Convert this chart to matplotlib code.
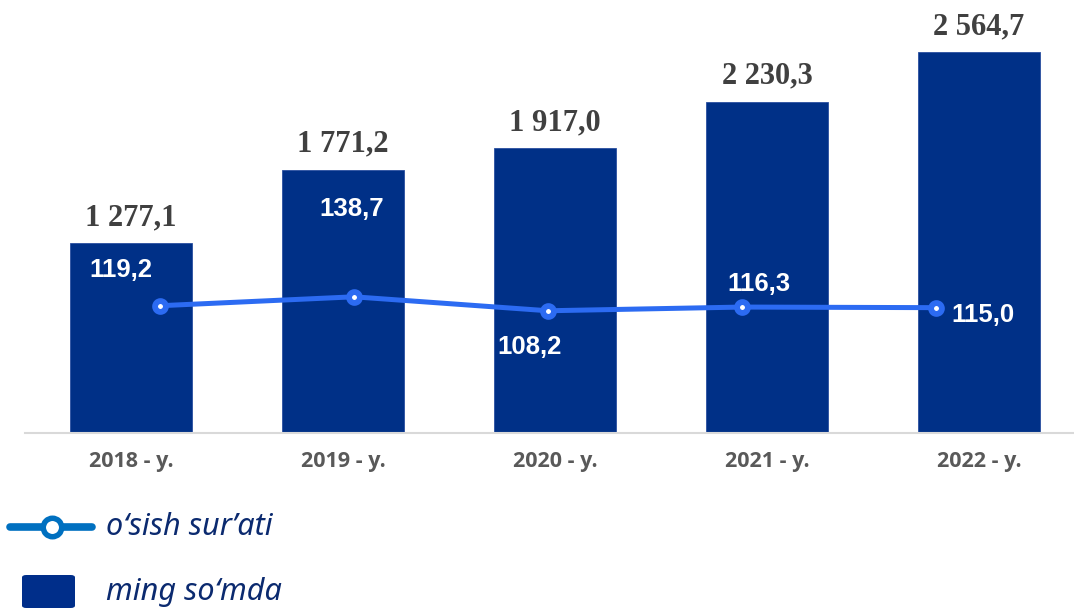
import matplotlib
matplotlib.use('Agg')
import matplotlib.pyplot as plt
from matplotlib.lines import Line2D
from matplotlib.patches import FancyBboxPatch

# ============================================================================
# DONNÉES
# ============================================================================
years = ['2018 - y.', '2019 - y.', '2020 - y.', '2021 - y.', '2022 - y.']
amounts = [1277.1, 1771.2, 1917.0, 2230.3, 2564.7]      # ming so'mda
growth = [119.2, 138.7, 108.2, 116.3, 115.0]            # o'sish sur'ati
amount_labels = ['1 277,1', '1 771,2', '1 917,0', '2 230,3', '2 564,7']
growth_labels = ['119,2', '138,7', '108,2', '116,3', '115,0']

# position of the growth labels relative to their points (points)
growth_offsets = [(-28, 20.5), (-1.5, 58.5), (-13, -31.3), (12.2, 11.9), (33.8, -10.4)]

bar_color = '#003087'
line_color = '#2C6BF2'
legend_line_color = '#0070C0'
text_navy = '#0B2A6F'

W, H = 1074, 610
fig = plt.figure(figsize=(W / 100, H / 100), dpi=100)

ax = fig.add_axes([25 / W, (H - 433) / H, (W - 25) / W, 433 / H])
x = list(range(len(years)))
ax.bar(x, amounts, width=0.572, color=bar_color, edgecolor='#2A4FA0', linewidth=0.6, zorder=2)
ax.set_xlim(-0.5, 4.448)
ax.set_ylim(0, 2914.7)

for xi, v, lab in zip(x, amounts, amount_labels):
    ax.annotate(lab, (xi, v), xytext=(0, 13), textcoords='offset points',
                ha='center', va='baseline', fontsize=22, fontweight='bold',
                family=['Liberation Serif', 'DejaVu Serif'], color='#404040')

ax.set_xticks(x)
ax.set_xticklabels(years, family=['Open Sans', 'DejaVu Sans'], fontweight='bold',
                   fontsize=15.5, color='#595959')
ax.tick_params(axis='x', length=0, pad=12.7)
ax.set_yticks([])
for s in ['top', 'left', 'right']:
    ax.spines[s].set_visible(False)
ax.spines['bottom'].set_color('#D9D9D9')
ax.spines['bottom'].set_linewidth(1.5)
ax.patch.set_alpha(0)

# ligne sur axes secondaires
ax2 = fig.add_axes(ax.get_position(), frameon=False)
ax2.plot(x, growth, color=line_color, linewidth=3.6, marker='o', markersize=7.8,
         markerfacecolor='white', markeredgecolor=line_color, markeredgewidth=4.2,
         solid_capstyle='round', zorder=3)
ax2.set_xlim(-0.695, 4.710)
ax2.set_ylim(-158.8, 787.0)
ax2.set_xticks([])
ax2.set_yticks([])

for xi, v, lab, off in zip(x, growth, growth_labels, growth_offsets):
    ax2.annotate(lab, (xi, v), xytext=off, textcoords='offset points',
                 ha='center', va='baseline', fontsize=18.5, fontweight='bold',
                 family=['Liberation Sans Narrow', 'Liberation Sans', 'DejaVu Sans'],
                 color='white', zorder=4)

# ============================================================================
# LÉGENDE
# ============================================================================
def fy(py):
    return (H - py) / H

fig.add_artist(Line2D([10 / W, 92 / W], [fy(527), fy(527)], color=legend_line_color,
                      linewidth=5.5, solid_capstyle='round'))
fig.add_artist(Line2D([52 / W], [fy(527)], marker='o', markersize=13.3,
                      markerfacecolor='white', markeredgecolor=legend_line_color,
                      markeredgewidth=3.95))
fig.text(106 / W, fy(527), 'o‘sish sur’ati', fontsize=22, style='italic',
         family=['Noto Sans', 'DejaVu Sans'], color=text_navy, va='center', ha='left')

fig.add_artist(FancyBboxPatch((22 / W, fy(608)), 53 / W, 33 / H,
                              boxstyle='round,pad=0,rounding_size=0.004',
                              facecolor='#002E8A', edgecolor='none'))
fig.text(106 / W, fy(592), 'ming so‘mda', fontsize=22, style='italic',
         family=['Noto Sans', 'DejaVu Sans'], color=text_navy, va='center', ha='left')

plt.savefig('out.png', dpi=100)
